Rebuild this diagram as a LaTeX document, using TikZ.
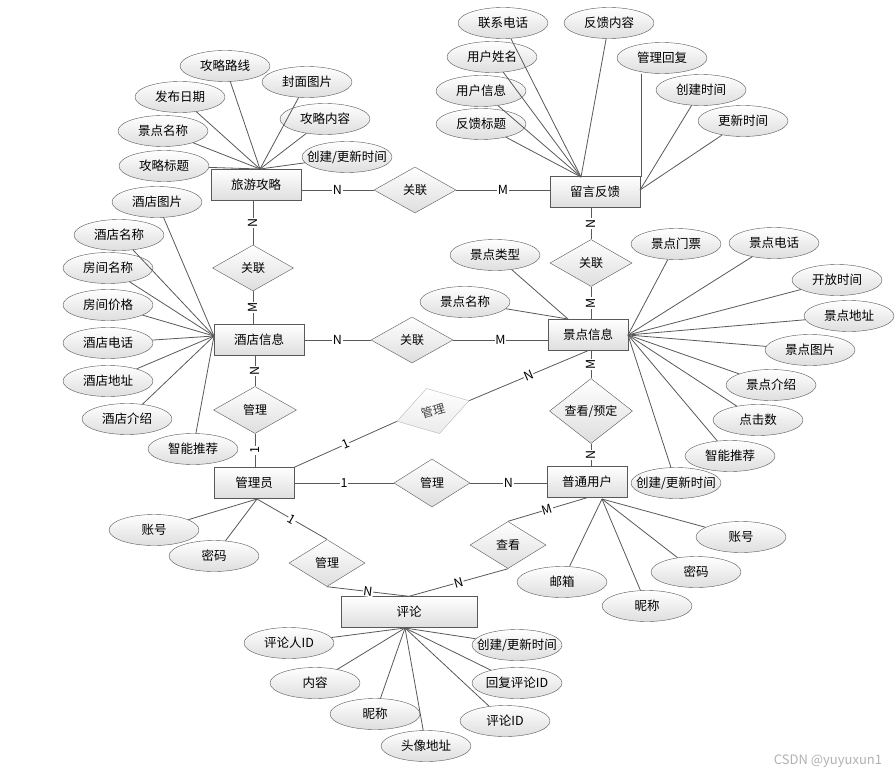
\documentclass[tikz,border=0pt]{standalone}
\usepackage{fontspec}
\setmainfont{Noto Sans CJK SC}
\usetikzlibrary{positioning,shapes.geometric,calc}

\tikzset{
  entidade/.style={draw=black!65, rectangle, top color=white, bottom color=black!13, minimum width=90pt, minimum height=31pt, inner sep=0pt, font=\fontsize{12.5}{14}\selectfont},
  atributo/.style={draw=black!65, ellipse, top color=white, bottom color=black!13, minimum width=90pt, minimum height=31pt, inner xsep=-12pt, inner ysep=0pt, font=\fontsize{12.5}{14}\selectfont},
  relacao/.style={draw=black!65, diamond, top color=white, bottom color=black!13, minimum width=82pt, minimum height=46pt, inner sep=0pt, font=\fontsize{12}{14}\selectfont},
  liga/.style={draw=black!65, line width=0.8pt},
  card/.style={fill=white, inner sep=0.6pt, font=\fontsize{12.5}{13}\selectfont},
}

\begin{document}
\begin{tikzpicture}[x=1pt, y=-1pt]
        \useasboundingbox[fill=white] (0,0) rectangle (896,776);

        % Entidades
        \node[entidade] (lvyou) at (256,185) {旅游攻略};
        \node[entidade] (liuyan) at (595,192) {留言反馈};
        \node[entidade] (jiudian) at (259,340) {酒店信息};
        \node[entidade, minimum width=80pt] (jingdian) at (588,335) {景点信息};
        \node[entidade, minimum width=80pt] (yonghu) at (587,482) {普通用户};
        \node[entidade, minimum width=80pt] (guanli) at (254,483) {管理员};
        \node[entidade, minimum width=136pt] (pinglun) at (409,612) {评论};

        % Relacionamentos
        \node[relacao] (r1) at (415,190) {关联};
        \node[relacao, minimum width=81pt] (r2) at (253,268) {关联};
        \node[relacao, minimum height=47pt] (r3) at (591,263) {关联};
        \node[relacao] (r4) at (412,340) {关联};
        \node[relacao, minimum width=83pt, minimum height=47pt] (r5) at (255,410) {管理};
        \node[relacao, draw=black!28, bottom color=black!8, text=black!75, minimum width=75pt, minimum height=47pt, rotate=16] (r6) at (433,411) {管理};
        \node[relacao, minimum width=83pt, minimum height=47pt] (r7) at (591,411) {查看/预定};
        \node[relacao, minimum width=76pt, minimum height=48pt] (r8) at (432,483) {管理};
        \node[relacao, minimum width=76pt, minimum height=47pt] (r9) at (327,563) {管理};
        \node[relacao, minimum width=76pt, minimum height=47pt] (r10) at (508,545) {查看};

        % Atributos de 旅游攻略
        \coordinate (hubLv) at (260,169);
        \node[atributo] (glLuxian) at (225,66) {攻略路线};
        \node[atributo] (glFengmian) at (307,82) {封面图片};
        \node[atributo] (glRiqi) at (180,97) {发布日期};
        \node[atributo] (glNeirong) at (325,119) {攻略内容};
        \node[atributo] (glJingdian) at (163,131) {景点名称};
        \node[atributo] (glShijian) at (347,157) {创建/更新时间};
        \node[atributo] (glBiaoti) at (164,166) {攻略标题};

        % Atributos de 留言反馈
        \coordinate (hubLy) at (581,177);
        \coordinate (hubLyD) at (640,190);
        \coordinate (hubLyR) at (641,177);
        \node[atributo] (lyDianhua) at (503,23) {联系电话};
        \node[atributo] (lyNeirong) at (609,23) {反馈内容};
        \node[atributo] (lyXingming) at (492,57) {用户姓名};
        \node[atributo] (lyHuifu) at (662,58) {管理回复};
        \node[atributo] (lyXinxi) at (481,91) {用户信息};
        \node[atributo] (lyChuangjian) at (701,90) {创建时间};
        \node[atributo] (lyBiaoti) at (481,124) {反馈标题};
        \node[atributo] (lyGengxin) at (743,121) {更新时间};

        % Atributos de 酒店信息
        \coordinate (hubJiu) at (214,336);
        \node[atributo] (jdTupian) at (157,202) {酒店图片};
        \node[atributo] (jdMingcheng) at (119,235) {酒店名称};
        \node[atributo] (jdFangjian) at (108,268) {房间名称};
        \node[atributo] (jdJiage) at (108,305) {房间价格};
        \node[atributo] (jdDianhua) at (108,343) {酒店电话};
        \node[atributo] (jdDizhi) at (108,381) {酒店地址};
        \node[atributo] (jdJieshao) at (127,419) {酒店介绍};
        \node[atributo] (jdTuijian) at (193,449) {智能推荐};

        % Atributos de 景点信息
        \coordinate (hubJingT) at (568,319);
        \coordinate (hubJingR) at (628,335);
        \node[atributo] (jgLeixing) at (495,255) {景点类型};
        \node[atributo] (jgMingcheng) at (465,302) {景点名称};
        \node[atributo] (jgMenpiao) at (676,244) {景点门票};
        \node[atributo] (jgDianhua) at (774,243) {景点电话};
        \node[atributo] (jgKaifang) at (837,280) {开放时间};
        \node[atributo] (jgDizhi) at (849,316) {景点地址};
        \node[atributo] (jgTupian) at (810,350) {景点图片};
        \node[atributo] (jgJieshao) at (771,385) {景点介绍};
        \node[atributo] (jgDianji) at (758,420) {点击数};
        \node[atributo] (jgTuijian) at (730,456) {智能推荐};
        \node[atributo] (jgShijian) at (676,483) {创建/更新时间};

        % Atributos de 普通用户 e 管理员
        \coordinate (hubYh) at (602,499);
        \node[atributo] (yhZhanghao) at (741,537) {账号};
        \node[atributo] (yhMima) at (696,572) {密码};
        \node[atributo] (yhYouxiang) at (562,582) {邮箱};
        \node[atributo] (yhNicheng) at (647,606) {昵称};
        \coordinate (hubGl) at (257,499);
        \node[atributo] (gyZhanghao) at (154,530) {账号};
        \node[atributo] (gyMima) at (214,556) {密码};

        % Atributos de 评论
        \coordinate (hubPl) at (405,628);
        \node[atributo] (plRenID) at (289,643) {评论人ID};
        \node[atributo] (plNeirong) at (315,683) {内容};
        \node[atributo] (plNicheng) at (375,714) {昵称};
        \node[atributo] (plTouxiang) at (426,746) {头像地址};
        \node[atributo] (plID) at (505,721) {评论ID};
        \node[atributo] (plHuifu) at (517,683) {回复评论ID};
        \node[atributo] (plShijian) at (517,645) {创建/更新时间};

        % Ligacoes dos atributos
        \draw[liga] (glLuxian) -- (hubLv);
        \draw[liga] (glFengmian) -- (hubLv);
        \draw[liga] (glRiqi) -- (hubLv);
        \draw[liga] (glNeirong) -- (hubLv);
        \draw[liga] (glJingdian) -- (hubLv);
        \draw[liga] (glShijian) -- (hubLv);
        \draw[liga] (glBiaoti) -- (hubLv);

        \draw[liga] (lyDianhua) -- (hubLy);
        \draw[liga] (lyNeirong) -- (hubLy);
        \draw[liga] (lyXingming) -- (hubLy);
        \draw[liga] (lyXinxi) -- (hubLy);
        \draw[liga] (lyBiaoti) -- (hubLy);
        \draw[liga] (hubLyR |- lyHuifu.south) -- (hubLyR);
        \draw[liga] (lyChuangjian) -- (hubLyD);
        \draw[liga] (lyGengxin) -- (hubLyD);

        \draw[liga] (jdTupian) -- (hubJiu);
        \draw[liga] (jdMingcheng) -- (hubJiu);
        \draw[liga] (jdFangjian) -- (hubJiu);
        \draw[liga] (jdJiage) -- (hubJiu);
        \draw[liga] (jdDianhua) -- (hubJiu);
        \draw[liga] (jdDizhi) -- (hubJiu);
        \draw[liga] (jdJieshao) -- (hubJiu);
        \draw[liga] (jdTuijian) -- (hubJiu);

        \draw[liga] (jgLeixing) -- (hubJingT);
        \draw[liga] (jgMingcheng) -- (hubJingT);
        \draw[liga] (jgMenpiao) -- (hubJingR);
        \draw[liga] (jgDianhua) -- (hubJingR);
        \draw[liga] (jgKaifang) -- (hubJingR);
        \draw[liga] (jgDizhi) -- (hubJingR);
        \draw[liga] (jgTupian) -- (hubJingR);
        \draw[liga] (jgJieshao) -- (hubJingR);
        \draw[liga] (jgDianji) -- (hubJingR);
        \draw[liga] (jgTuijian) -- (hubJingR);
        \draw[liga] (jgShijian) -- (hubJingR);

        \draw[liga] (yhZhanghao) -- (hubYh);
        \draw[liga] (yhMima) -- (hubYh);
        \draw[liga] (yhYouxiang) -- (hubYh);
        \draw[liga] (yhNicheng) -- (hubYh);
        \draw[liga] (gyZhanghao) -- (hubGl);
        \draw[liga] (gyMima) -- (hubGl);

        \draw[liga] (plRenID) -- (hubPl);
        \draw[liga] (plNeirong) -- (hubPl);
        \draw[liga] (plNicheng) -- (hubPl);
        \draw[liga] (plTouxiang) -- (hubPl);
        \draw[liga] (plID) -- (hubPl);
        \draw[liga] (plHuifu) -- (hubPl);
        \draw[liga] (plShijian) -- (hubPl);

        % Ligacoes dos relacionamentos
        \draw[liga] (lvyou.east |- r1.west) -- node[card]{N} (r1.west);
        \draw[liga] (r1.east) -- node[card]{M} (r1.east -| liuyan.west);
        \draw[liga] (lvyou.south -| r2.north) -- node[card, rotate=90]{N} (r2.north);
        \draw[liga] (r2.south) -- node[card, rotate=90]{M} (r2.south |- jiudian.north);
        \draw[liga] (jiudian.east |- r4.west) -- node[card]{N} (r4.west);
        \draw[liga] (r4.east) -- node[card]{M} (r4.east -| jingdian.west);
        \draw[liga] (jiudian.south -| r5.north) -- node[card, rotate=90]{N} (r5.north);
        \draw[liga] (r5.south) -- node[card, rotate=90]{1} (r5.south |- guanli.north);
        \draw[liga] (liuyan.south -| r3.north) -- node[card, rotate=90]{N} (r3.north);
        \draw[liga] (r3.south) -- node[card, rotate=90]{M} (r3.south |- jingdian.north);
        \draw[liga] (jingdian.south -| r7.north) -- node[card, rotate=90]{M} (r7.north);
        \draw[liga] (r7.south) -- node[card, rotate=90]{N} (r7.south |- yonghu.north);
        \draw[liga] (guanli.east |- r8.west) -- node[card]{1} (r8.west);
        \draw[liga] (r8.east) -- node[card]{N} (r8.east -| yonghu.west);
        \draw[liga] (guanli.north east) -- node[card, sloped]{1} (r6.west);
        \draw[liga] (r6.east) -- node[card, sloped]{N} (jingdian.south);
        \draw[liga] (hubGl) -- node[card, sloped]{1} (r9.north);
        \draw[liga] (r9.south) -- node[card, sloped]{N} (pinglun.north);
        \draw[liga] (yonghu.south) -- node[card, sloped]{M} (r10.north);
        \draw[liga] (r10.south) -- node[card, sloped]{N} (pinglun.north);

        \node[text=black!30, font=\fontsize{13}{14}\selectfont] (marca) at (828,761) {CSDN @yuyuxun1};
    \end{tikzpicture}
\end{document}
